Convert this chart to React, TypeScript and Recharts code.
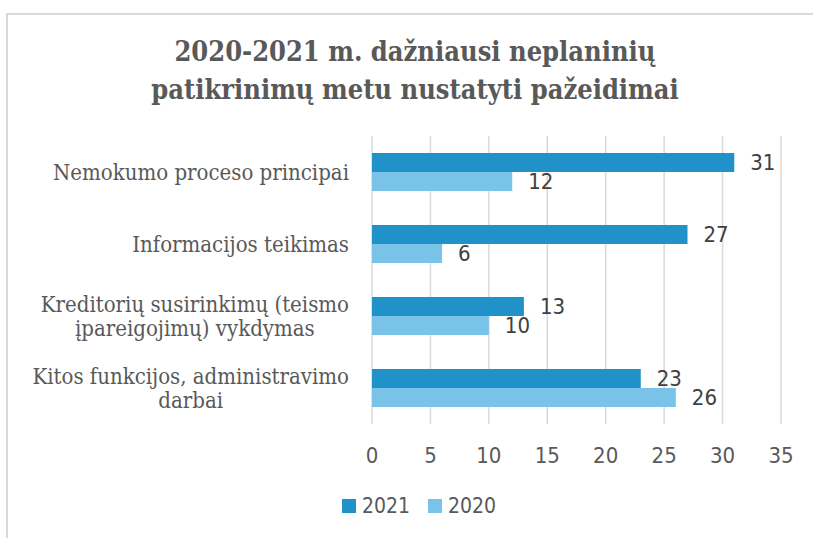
import { BarChart, Bar, XAxis, YAxis, CartesianGrid, LabelList } from 'recharts';

const categories = [
  'Nemokumo proceso principai',
  'Informacijos teikimas',
  'Kreditorių susirinkimų (teismo\nįpareigojimų) vykdymas',
  'Kitos funkcijos, administravimo\ndarbai',
];
const values2021 = [31, 27, 13, 23];
const values2020 = [12, 6, 10, 26];
const xTicks = [0, 5, 10, 15, 20, 25, 30, 35];

const series = [
  { key: 'v2021', name: '2021', color: '#2192c9' },
  { key: 'v2020', name: '2020', color: '#79c3e8' },
];

const SERIF = "'DejaVu Serif Condensed', 'DejaVu Serif', serif";
const SANS = "'Liberation Sans Narrow', 'DejaVu Sans Condensed', sans-serif";
const TEXT = '#595959';

const data = categories.map((name, i) => ({
  name,
  v2021: values2021[i],
  v2020: values2020[i],
}));

let measureCtx: CanvasRenderingContext2D | null = null;
function textWidth(s: string, font: string) {
  if (!measureCtx) measureCtx = document.createElement('canvas').getContext('2d');
  if (!measureCtx) return s.length * 10;
  measureCtx.font = font;
  return measureCtx.measureText(s).width;
}

// category label: block right-aligned, lines centered inside the block
function CategoryTick(props: any) {
  const { x, y, payload } = props;
  const lines: string[] = String(payload.value).split('\n');
  const fontSize = 22;
  const lh = 24.5;
  const right = x - 23;
  const first = y - ((lines.length - 1) * lh) / 2 + 8;
  if (lines.length === 1) {
    return (
      <text x={right} y={first} textAnchor="end" fill={TEXT} fontFamily={SERIF} fontSize={fontSize}>
        {lines[0]}
      </text>
    );
  }
  const w = Math.max(...lines.map((l) => textWidth(l, `${fontSize}px ${SERIF}`)));
  return (
    <text textAnchor="middle" fill={TEXT} fontFamily={SERIF} fontSize={fontSize}>
      {lines.map((l, i) => (
        <tspan key={i} x={right - w / 2} y={first + i * lh}>
          {l}
        </tspan>
      ))}
    </text>
  );
}

export default function App() {
  return (
    <div style={{ position: 'absolute', left: 0, top: 0, width: 813, height: 538, overflow: 'hidden', background: '#fff' }}>
      <div
        style={{
          position: 'absolute',
          left: 6,
          top: 13,
          width: 900,
          height: 600,
          borderTop: '2px solid #d9d9d9',
          borderLeft: '2px solid #d9d9d9',
        }}
      />
      <div
        style={{
          position: 'absolute',
          left: 5,
          top: 33,
          width: 820,
          textAlign: 'center',
          fontFamily: SERIF,
          fontWeight: 'bold',
          fontSize: 27,
          lineHeight: '38px',
          color: TEXT,
        }}
      >
        2020-2021 m. dažniausi neplaninių
        <br />
        patikrinimų metu nustatyti pažeidimai
      </div>
      <div style={{ position: 'absolute', left: 0, top: 0 }}>
        <BarChart
          width={813}
          height={538}
          data={data}
          layout="vertical"
          margin={{ top: 136, right: 32, bottom: 84, left: 0 }}
          barGap={0}
          barSize={19}
        >
          <CartesianGrid horizontal={false} stroke="#d9d9d9" strokeWidth={1.5} />
          <XAxis
            type="number"
            domain={[0, 35]}
            ticks={xTicks}
            axisLine={false}
            tickLine={false}
            tickSize={0}
            tickMargin={23}
            height={30}
            interval={0}
            tick={{ fill: TEXT, fontFamily: SANS, fontSize: 22 }}
          />
          <YAxis
            type="category"
            dataKey="name"
            width={372}
            axisLine={false}
            tickLine={false}
            tickSize={0}
            tickMargin={0}
            interval={0}
            tick={<CategoryTick />}
          />
          {series.map((s) => (
            <Bar key={s.key} dataKey={s.key} name={s.name} fill={s.color} isAnimationActive={false}>
              <LabelList
                dataKey={s.key}
                position="right"
                offset={16}
                fill="#404040"
                fontFamily={SANS}
                fontSize={22}
              />
            </Bar>
          ))}
        </BarChart>
      </div>
      <div
        style={{
          position: 'absolute',
          left: 5,
          width: 828,
          top: 494,
          display: 'flex',
          justifyContent: 'center',
          alignItems: 'center',
          fontFamily: SANS,
          fontSize: 21,
          color: TEXT,
        }}
      >
        {series.map((s) => (
          <div key={s.key} style={{ display: 'flex', alignItems: 'center', margin: '0 9px' }}>
            <span style={{ width: 14, height: 14, background: s.color, marginRight: 6 }} />
            <span>{s.name}</span>
          </div>
        ))}
      </div>
    </div>
  );
}
